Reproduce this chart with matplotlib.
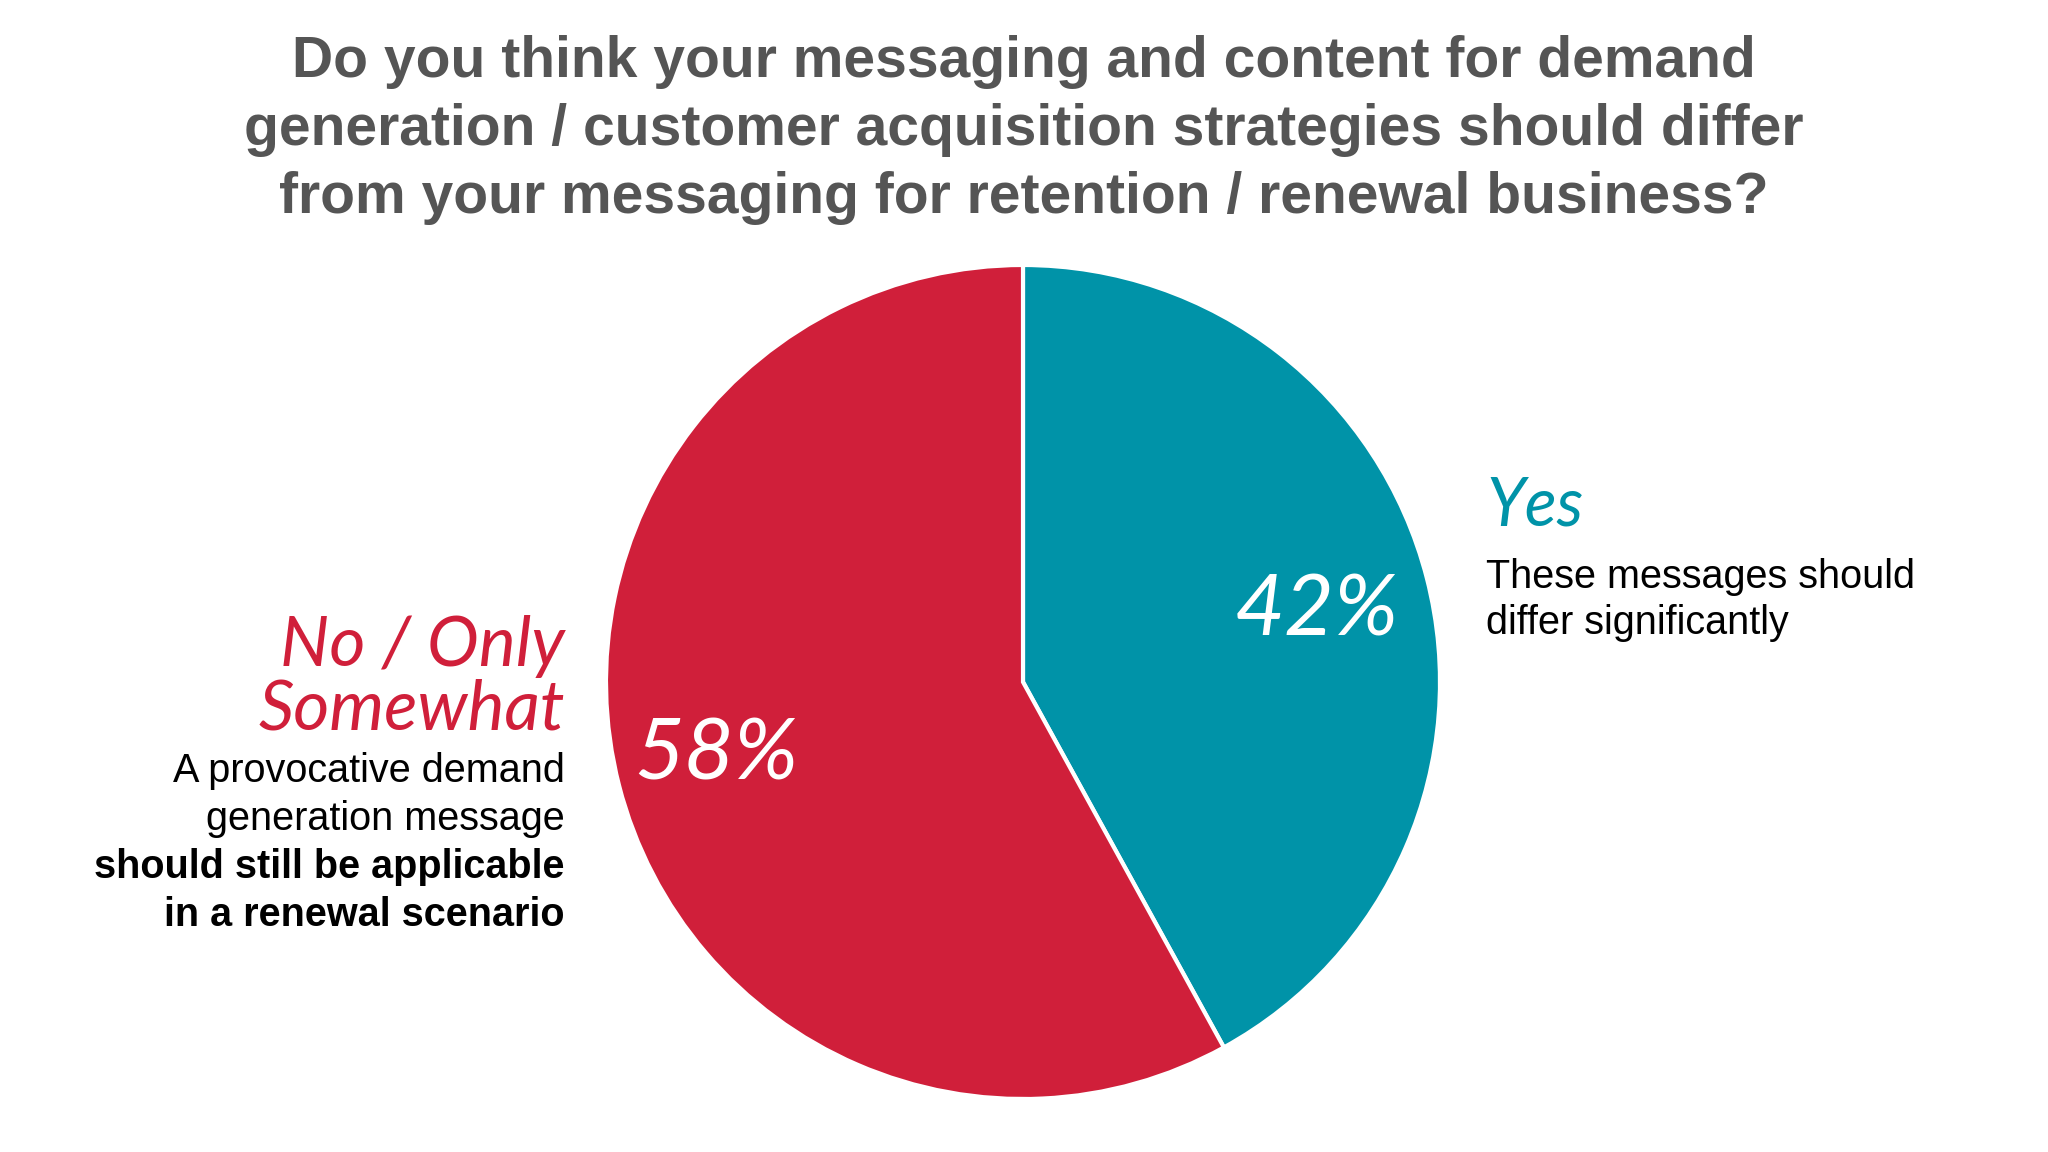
import matplotlib.pyplot as plt

# survey answers
labels = ['Yes', 'No / Only\nSomewhat']
shares = [42, 58]
colors = ['#0093A8', '#D01F3A']

title = ('Do you think your messaging and content for demand\n'
         'generation / customer acquisition strategies should differ\n'
         'from your messaging for retention / renewal business?')

W, H = 2048, 1152
fig = plt.figure(figsize=(W / 100, H / 100), dpi=100)
ax = fig.add_axes([0, 0, 1, 1])

cx, cy, r = 1023, H - 682, 417
wedges, _ = ax.pie(shares, colors=colors, startangle=90, counterclock=False,
                   center=(cx, cy), radius=r, frame=True,
                   wedgeprops=dict(edgecolor='white', linewidth=3))
ax.set_xlim(0, W)
ax.set_ylim(0, H)
ax.set_aspect('equal')
ax.axis('off')

hand = 'Lato'
body = 'Liberation Sans'
# percentages inside slices
ax.text(1317, H - 611, f'{shares[0]}%', color='white', fontsize=62,
        family=hand, ha='center', va='center', style='italic')
ax.text(716, H - 755, f'{shares[1]}%', color='white', fontsize=62,
        family=hand, ha='center', va='center', style='italic')

# Yes side
ax.text(1486, H - 507, labels[0], color=colors[0], fontsize=48,
        family=hand, ha='left', va='center', style='italic')
ax.text(1486, H - 600, 'These messages should\ndiffer significantly',
        color='black', fontsize=28.5, family=body,
        ha='left', va='center', linespacing=1.3)

# No side
ax.text(565, H - 678, labels[1], color=colors[1], fontsize=50,
        family=hand, ha='right', va='center', style='italic', linespacing=1.0)
ax.text(565, H - 795, 'A provocative demand\ngeneration message',
        color='black', fontsize=28.5, family=body,
        ha='right', va='center', linespacing=1.3)
ax.text(565, H - 891, 'should still be applicable\nin a renewal scenario',
        color='black', fontsize=28.5, family=body, weight='bold',
        ha='right', va='center', linespacing=1.3)

ax.text(W / 2, H - 130, title, color='#555555', fontsize=41,
        family=body, weight='bold', ha='center', va='center',
        linespacing=1.34)

fig.savefig('out.png', dpi=100, facecolor='white')
